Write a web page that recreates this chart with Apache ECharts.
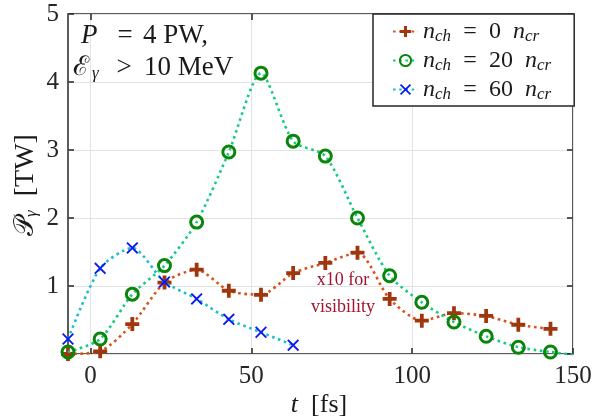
<!DOCTYPE html>
<html><head><meta charset="utf-8">
<script src="https://cdn.jsdelivr.net/npm/echarts@6/dist/echarts.min.js"></script>
<style>html,body{margin:0;padding:0;background:#fff}#c{width:595px;height:420px}</style>
</head><body><div id="c"></div>
<script>
const tMain = [-7, 3, 13, 23, 33, 43, 53, 63, 73, 83, 93, 103, 113, 123, 133, 143];
const p0 = [0.0, 0.04, 0.44, 1.05, 1.24, 0.93, 0.87, 1.19, 1.34, 1.49, 0.81, 0.49, 0.60, 0.56, 0.43, 0.37];
const tGreen = [-7, 3, 13, 23, 33, 43, 53, 63, 73, 83, 93, 103, 113, 123, 133, 143, 153];
const p20 = [0.03, 0.22, 0.88, 1.30, 1.94, 2.97, 4.13, 3.13, 2.91, 2.0, 1.15, 0.76, 0.47, 0.26, 0.10, 0.03, -0.03];
const tBlue = [-7, 3, 13, 23, 33, 43, 53, 63];
const p60 = [0.22, 1.26, 1.56, 1.06, 0.81, 0.51, 0.32, 0.13];
const xTicks = [0, 50, 100, 150];
const yTicks = [1, 2, 3, 4, 5];
const names = ['n0', 'n20', 'n60'];
const legendVals = ['0', '20', '60'];

const SERIF = "'Liberation Serif','DejaVu Serif',serif";
const plusPath = 'path://M-1.35,-5H1.35V-1.35H5V1.35H1.35V5H-1.35V1.35H-5V-1.35H-1.35Z';
const crossPath = 'path://M-3.9,-5.0L0,-1.1L3.9,-5.0L5.0,-3.9L1.1,0L5.0,3.9L3.9,5.0L0,1.1L-3.9,5.0L-5.0,3.9L-1.1,0L-5.0,-3.9Z';

function pairs(t, v) { return t.map((x, i) => [x, v[i]]); }

const chart = echarts.init(document.getElementById('c'), null, {renderer: 'canvas'});
const gridLine = {show: true, lineStyle: {color: '#e3e3e3', width: 1}};
const tickStyle = {color: '#262626', width: 1.5};
const txt = '#1a1a1a';
const option = {
  animation: false,
  backgroundColor: '#fff',
  grid: {left: 68, right: 22, top: 14, bottom: 66, show: true, borderColor: '#262626', borderWidth: 1.5, backgroundColor: 'transparent'},
  xAxis: [{
    type: 'value', min: -7, max: 150,
    axisLine: {show: false, onZero: false},
    axisTick: {show: true, inside: true, length: 6, customValues: xTicks, lineStyle: tickStyle},
    axisLabel: {customValues: xTicks, color: '#262626', fontFamily: SERIF, fontSize: 25, margin: 10},
    splitLine: gridLine
  }, {
    type: 'value', min: -7, max: 150, position: 'top',
    axisLine: {show: false, onZero: false},
    axisTick: {show: true, inside: true, length: 6, customValues: xTicks, lineStyle: tickStyle},
    axisLabel: {show: false}, splitLine: {show: false}
  }],
  yAxis: [{
    type: 'value', min: 0, max: 5, interval: 1, position: 'left',
    axisLine: {show: false, onZero: false},
    axisTick: {show: true, inside: true, length: 6, lineStyle: tickStyle},
    axisLabel: {color: '#262626', fontFamily: SERIF, fontSize: 25, margin: 9, formatter: v => (yTicks.indexOf(v) >= 0 ? String(v) : '')},
    splitLine: gridLine
  }, {
    type: 'value', min: 0, max: 5, interval: 1, position: 'right',
    axisLine: {show: false, onZero: false},
    axisTick: {show: true, inside: true, length: 6, lineStyle: tickStyle},
    axisLabel: {show: false}, splitLine: {show: false}
  }],
  legend: {
    left: 373, top: 14, orient: 'vertical',
    data: names,
    backgroundColor: '#fff', borderColor: '#262626', borderWidth: 1.5, borderRadius: 0,
    padding: [4, 23, 3, 19], itemGap: 2, itemWidth: 25, itemHeight: 14,
    formatter: function (name) { const k = names.indexOf(name); return '{i|n}{s|ch}{e|=}{r|' + legendVals[k] + '  }{i|n}{s|cr}'; },
    textStyle: {
      color: txt, fontFamily: SERIF, fontSize: 23,
      rich: {
        i: {fontFamily: SERIF, fontStyle: 'italic', fontSize: 24, color: txt, lineHeight: 28},
        s: {fontFamily: SERIF, fontStyle: 'italic', fontSize: 17, color: txt, padding: [10, 0, 0, 0], lineHeight: 28},
        e: {fontFamily: SERIF, fontSize: 24, color: txt, lineHeight: 28, width: 38, align: 'center'},
        r: {fontFamily: SERIF, fontSize: 24, color: txt, lineHeight: 28}
      }
    }
  },
  series: [
    {name: 'n0', type: 'line', data: pairs(tMain, p0), smooth: 0.25, clip: true,
     symbol: plusPath, symbolSize: 14, showAllSymbol: true,
     lineStyle: {color: '#D95319', width: 2.6, type: [2.6, 3.6]},
     itemStyle: {color: '#A0360E', borderWidth: 0}, z: 3},
    {name: 'n20', type: 'line', data: pairs(tGreen, p20).map((d, i) => i === tGreen.length - 1 ? {value: d, symbol: 'none'} : d), smooth: 0.25, clip: true,
     symbol: 'circle', symbolSize: 12, showAllSymbol: true,
     lineStyle: {color: '#14CC80', width: 2.6, type: [2.6, 3.6]},
     itemStyle: {color: 'rgba(255,255,255,0)', borderColor: '#0A840A', borderWidth: 3}, z: 4},
    {name: 'n60', type: 'line', data: pairs(tBlue, p60), smooth: 0.25, clip: true,
     symbol: crossPath, symbolSize: 12, showAllSymbol: true,
     lineStyle: {color: '#1ABFCF', width: 2.6, type: [2.6, 3.6]},
     itemStyle: {color: '#0A1AF0', borderWidth: 0}, z: 5}
  ],
  graphic: [
    {type: 'text', left: 81, top: 22, z: 100, style: {text: '{i|P}{e|=}{r|4 PW,}', fill: txt,
      rich: {i: {fontFamily: SERIF, fontStyle: 'italic', fontSize: 27, width: 26}, e: {fontFamily: SERIF, fontSize: 27, width: 36, align: 'center'}, r: {fontFamily: SERIF, fontSize: 27}}}},
    {type: 'text', left: 73, top: 54, z: 100, style: {text: '{i|ℰ}{s|γ}{e|>}{r|10 MeV}', fill: txt,
      rich: {i: {fontFamily: SERIF, fontSize: 27, lineHeight: 30, width: 19}, s: {fontFamily: SERIF, fontStyle: 'italic', fontSize: 17, padding: [11, 0, 0, 0], lineHeight: 30, width: 12},
             e: {fontFamily: SERIF, fontSize: 27, lineHeight: 30, width: 40, align: 'center'}, r: {fontFamily: SERIF, fontSize: 27, lineHeight: 30}}}},
    {type: 'text', x: 343, y: 294, z: 100, style: {text: 'x10 for\nvisibility', fill: '#A2142F', fontFamily: SERIF, fontSize: 18, lineHeight: 27, align: 'center', verticalAlign: 'middle'}},
    {type: 'text', x: 319, y: 405, z: 100, style: {text: '{i|t}{r|  [fs]}', align: 'center', verticalAlign: 'middle', fill: txt,
      rich: {i: {fontFamily: SERIF, fontStyle: 'italic', fontSize: 26}, r: {fontFamily: SERIF, fontSize: 26}}}},
    {type: 'text', x: 26, y: 185, rotation: Math.PI / 2, z: 100, style: {text: '{i|𝒫}{s|γ}{r|  [TW]}', align: 'center', verticalAlign: 'middle', fill: txt,
      rich: {i: {fontFamily: SERIF, fontSize: 27, lineHeight: 30}, s: {fontFamily: SERIF, fontStyle: 'italic', fontSize: 17, padding: [11, 0, 0, 0], lineHeight: 30}, r: {fontFamily: SERIF, fontSize: 28, lineHeight: 30}}}}
  ]
};
chart.setOption(option);
</script>
</body></html>
